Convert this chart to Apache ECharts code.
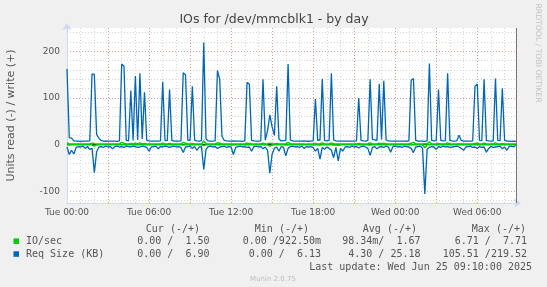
<!DOCTYPE html>
<html><head><meta charset="utf-8">
<script src="https://cdn.jsdelivr.net/npm/echarts@6/dist/echarts.min.js"></script>
<style>html,body{margin:0;padding:0;background:#f0f0f0}#c{width:547px;height:287px}</style>
</head><body><div id="c"></div>
<script>
// ---- data (10-minute samples starting Tue 00:00) ----
const stepMinutes = 10;
const xTickLabels = {0:'Tue 00:00',360:'Tue 06:00',720:'Tue 12:00',1080:'Tue 18:00',1440:'Wed 00:00',1800:'Wed 06:00'};
const yTickLabels = [-100, 0, 100, 200];
const reqWrite = [
162,15,14,8,7.5,7.8,7.2,7.6,7.4,7.8,8,152,150,22,14,9,7.5,7.3,7.8,7.6,
7.4,7.7,7.2,8,173,168,9,8,116,9,147,10,153,12,112,9,8,7.5,7.8,7.4,
7.6,8,135,9,8.5,118,9,7.8,7.5,7.6,8,154,150,10,9,125,9,8,7.6,8.5,
219,12,8,7.5,7.8,8,159,140,18,9,8,7.6,7.5,8,7.4,7.5,7.8,7.2,8,133,
130,9,8,7.5,7.8,8,140,10,30,64,38,20,125,12,8,8.5,9,173,10,8,
7.6,7.8,7.4,7.5,8,7.6,7.3,7.8,8,98,9,10,141,9,8,9,153,10,8,7.6,
7.8,7.4,7.5,7.6,7.8,7.4,7.6,8,100,9,8,7.6,9,140,12,10,9,130,11,137,
10,8,7.6,7.8,7.5,7.4,7.6,7.8,7.5,7.3,8,138,142,9,7.8,7.6,7.5,7,8,174,
9,8,8.5,118,9,8,8.5,153,9,8,7.8,8,20,9,7.6,7.8,7.5,7.4,8,125,
130,9,8.5,140,9,8,7.6,8,142,9,8.5,121,9,7.8,7.5,7.2,7.5,6.9];
const reqRead = [
5,21,12,20,6,4,5,3,8,4,10,8,60,15,5,4,6,3,5,4,
9,4,3,5,4,6,3,4,5,3,4,6,5,3,4,6,14,5,4,3,
9,4,5,3,4,6,4,3,5,4,6,17,5,4,3,8,4,12,5,4,
53,10,4,3,5,4,8,5,4,3,6,4,5,21,6,4,3,5,4,6,
5,14,4,3,5,4,9,5,12,61,20,8,5,14,4,6,24,8,4,3,
5,4,6,3,8,4,5,4,6,14,8,31,6,10,5,8,12,28,6,35,
8,14,5,4,6,3,5,4,7,4,3,5,8,23,6,4,9,5,4,6,
3,5,16,4,3,5,4,6,3,4,5,8,17,5,4,3,8,105.5,10,6,
4,5,10,4,6,3,5,4,6,5,4,3,5,8,12,5,4,3,6,5,
8,4,6,5,16,8,4,6,5,4,3,9,5,12,4,3,5,0];
const ioWrite = [
4,1.5,1.4,1.5,1.5,1.6,1.5,1.4,1.5,1.5,1.6,3,2.2,1.5,1.4,1.5,1.5,1.6,1.5,1.5,
1.4,1.5,1.5,1.6,5,3,1.5,1.4,2.5,1.5,3,1.5,4,1.6,2.5,1.5,1.4,1.5,1.5,1.6,
1.5,1.5,3,1.5,1.4,2.5,1.5,1.5,1.6,1.4,1.5,5,3,1.5,1.5,2.5,1.5,1.4,1.5,1.6,
7.7,2,1.5,1.4,1.5,1.5,4,3,1.6,1.5,1.4,1.5,1.5,1.6,1.5,1.4,1.5,1.5,1.6,3,
2.5,1.5,1.4,1.5,1.5,1.6,3,1.5,2,3,2,1.5,2.5,1.6,1.5,1.4,1.5,5,1.6,1.5,
1.4,1.5,1.5,1.6,1.5,0.92,1.5,1.4,1.5,2.5,1.5,1.6,4,1.5,1.4,1.5,4,1.6,1.5,1.4,
1.5,1.5,1.6,1.5,1.4,1.5,1.5,1.6,2.5,1.5,1.4,1.5,1.6,4,1.5,1.5,1.4,3,1.5,3,
1.5,1.6,1.4,1.5,1.5,1.6,1.5,1.4,1.5,1.5,1.6,3,5,1.5,1.4,1.5,1.5,2,1.6,6,
1.5,1.4,1.5,2.5,1.5,1.6,1.5,4,1.5,1.4,1.5,1.6,2,1.5,1.5,1.4,1.5,1.6,1.5,2.5,
3,1.5,1.4,3,1.5,1.6,1.5,1.4,4,1.5,1.5,2.5,1.6,1.5,1.4,1.5,1.5,1.5];
const ioRead = [
0.3,0.5,0.2,0.4,0,0,0,0,0.1,0,0.2,0.3,3,0.5,0,0,0,0,0,0,
0.2,0,0,0,0,0,0,0,0,0,0,0,0,0,0,0,0.4,0,0,0,
0,0,0,0,0,0,0,0,0,0,0,0.5,0,0,0,0,0,0.3,0,0,
2,0.3,0,0,0,0,0,0,0,0,0,0,0,0.5,0,0,0,0,0,0,
0,0.3,0,0,0,0,0,0,0.3,3,0.6,0,0,0.3,0,0,0.5,0,0,0,
0,0,0,0,0,0,0,0,0,0.3,0,0.8,0,0.2,0,0,0.3,0.7,0,1.5,
0,0.3,0,0,0,0,0,0,0,0,0,0,0,0.5,0,0,0.2,0,0,0,
0,0,0.4,0,0,0,0,0,0,0,0,0,0.4,0,0,0,0,6.71,0.3,0,
0,0,0.2,0,0,0,0,0,0,0,0,0,0,0,0.3,0,0,0,0,0,
0,0,0,0,0.4,0,0,0,0,0,0,0,0,0.3,0,0,0,0];
const legendNames = ['IO/sec', 'Req Size (KB)'];
const legendHeaders = ['Cur (-/+)', 'Min (-/+)', 'Avg (-/+)', 'Max (-/+)'];
const legendCur = ['0.00 /  1.50', '0.00 /  6.90'];
const legendMin = ['0.00 /922.50m', '0.00 /  6.13'];
const legendAvg = ['98.34m/  1.67', '4.30 / 25.18'];
const legendMax = ['6.71 /  7.71', '105.51 /219.52'];
const lastUpdate = 'Last update: Wed Jun 25 09:10:00 2025';
const titleText = 'IOs for /dev/mmcblk1 - by day';
const yAxisName = 'Units read (-) / write (+)';
const watermark = 'RRDTOOL / TOBI OETIKER';
const versionText = 'Munin 2.0.75';

// ---- chart ----
const GREEN = '#00cc00', BLUE = '#0066b3';
const toPairs = (arr, sign) => arr.map((v, i) => [i * stepMinutes, sign * v]);
const xMax = (reqWrite.length - 1) * stepMinutes;

const MAJ = 'rgba(222,120,120,0.75)', MIN = '#d6d6d6', NONE = 'rgba(0,0,0,0)';
// y split lines every 5 units from -125: minor every 20, major every 100
const yColors = [];
for (let k = 0; k < 20; k++) {
  if (k === 5) yColors.push(MAJ);
  else if (k % 4 === 1) yColors.push(MIN);
  else yColors.push(NONE);
}

const mono = '"DejaVu Sans Mono", monospace';
const sans = '"DejaVu Sans", sans-serif';
const FONT = '#555';
const graphics = [];
graphics.push({type:'text', x:274, y:20, style:{text:titleText, font:'12.5px ' + sans, fill:'#444', align:'center', verticalAlign:'middle'}});
graphics.push({type:'text', x:537.5, y:53, rotation:-Math.PI/2, style:{text:watermark, font:'7.7px ' + sans, fill:'#c4c4c4', align:'center', verticalAlign:'middle'}});
const hdrRight = [200, 309, 417, 526];
legendHeaders.forEach((h, i) => graphics.push({type:'text', x:hdrRight[i], y:229, style:{text:h, font:'10px ' + mono, fill:FONT, align:'right', verticalAlign:'middle'}}));
const rowY = [241.4, 254.3];
const colRight = [209.5, 321, 420.5, 527];
const cols = [legendCur, legendMin, legendAvg, legendMax];
[GREEN, BLUE].forEach((c, r) => {
  graphics.push({type:'rect', shape:{x:13.5, y:rowY[r]-3, width:5.5, height:5.5}, style:{fill:c}});
  graphics.push({type:'text', x:26, y:rowY[r], style:{text:legendNames[r], font:'10px ' + mono, fill:FONT, align:'left', verticalAlign:'middle'}});
  cols.forEach((col, ci) => graphics.push({type:'text', x:colRight[ci], y:rowY[r], style:{text:col[r], font:'10px ' + mono, fill:FONT, align:'right', verticalAlign:'middle'}}));
});
graphics.push({type:'text', x:532, y:267, style:{text:lastUpdate, font:'10px ' + mono, fill:FONT, align:'right', verticalAlign:'middle'}});
graphics.push({type:'text', x:273, y:279.5, style:{text:versionText, font:'7px ' + sans, fill:'#bdbdbd', align:'center', verticalAlign:'middle'}});

const chart = echarts.init(document.getElementById('c'), null, {renderer:'canvas', width:547, height:287});
const lineBase = {type:'line', showSymbol:false, symbol:'none', animation:false, silent:true};
chart.setOption({
  backgroundColor:'#f0f0f0',
  animation:false,
  grid:{left:67, top:28, width:449, height:175, show:true, backgroundColor:'#ffffff', borderWidth:0, containLabel:false, outerBoundsMode:'none'},
  xAxis:{
    type:'value', min:0, max:xMax, interval:60,
    axisLine:{show:true, onZero:false, symbol:['none','arrow'], symbolSize:[7,7], symbolOffset:[0,5], lineStyle:{color:'#cfd6f8', width:1}},
    axisTick:{show:false},
    axisLabel:{formatter:v => xTickLabels[v] || '', color:FONT, fontSize:9, fontFamily:'DejaVu Sans', margin:5, showMaxLabel:false, hideOverlap:false},
    splitLine:{show:true, lineStyle:{color:[MAJ, MIN, MIN], type:[1,2], width:1}}
  },
  yAxis:{
    type:'value', min:-125, max:250, interval:5,
    name:yAxisName, nameLocation:'middle', nameGap:50, nameRotate:90,
    nameTextStyle:{color:FONT, fontSize:11, fontFamily:'DejaVu Sans'},
    axisLine:{show:true, symbol:['none','arrow'], symbolSize:[7,7], symbolOffset:[0,5], lineStyle:{color:'#cfd6f8', width:1}},
    axisTick:{show:false},
    axisLabel:{formatter:v => yTickLabels.indexOf(Math.round(v)) >= 0 && Math.abs(v - Math.round(v)) < 1e-6 ? String(Math.round(v)) : '', color:FONT, fontSize:9, fontFamily:'DejaVu Sans', margin:7},
    splitLine:{show:true, lineStyle:{color:yColors, type:[1,2], width:1}}
  },
  graphic:graphics,
  series:[
    Object.assign({}, lineBase, {name:'Req Size (KB) write', data:toPairs(reqWrite, 1), z:2, lineStyle:{color:BLUE, width:1.3}, itemStyle:{color:BLUE}}),
    Object.assign({}, lineBase, {name:'Req Size (KB) read', data:toPairs(reqRead, -1), z:2, lineStyle:{color:BLUE, width:1.3}, itemStyle:{color:BLUE},
      markLine:{silent:true, symbol:'none', animation:false, z:3, label:{show:false},
        data:[{yAxis:0, lineStyle:{color:'#000000', width:1, type:'solid'}},
              {xAxis:xMax, lineStyle:{color:'#777777', width:1, type:'solid'}}]}}),
    Object.assign({}, lineBase, {name:'IO/sec write', data:toPairs(ioWrite, 1), z:6, lineStyle:{color:GREEN, width:1.5}, itemStyle:{color:GREEN}}),
    Object.assign({}, lineBase, {name:'IO/sec read', data:toPairs(ioRead, -1), z:6, lineStyle:{color:GREEN, width:1.5}, itemStyle:{color:GREEN}})
  ]
});
</script></body></html>
